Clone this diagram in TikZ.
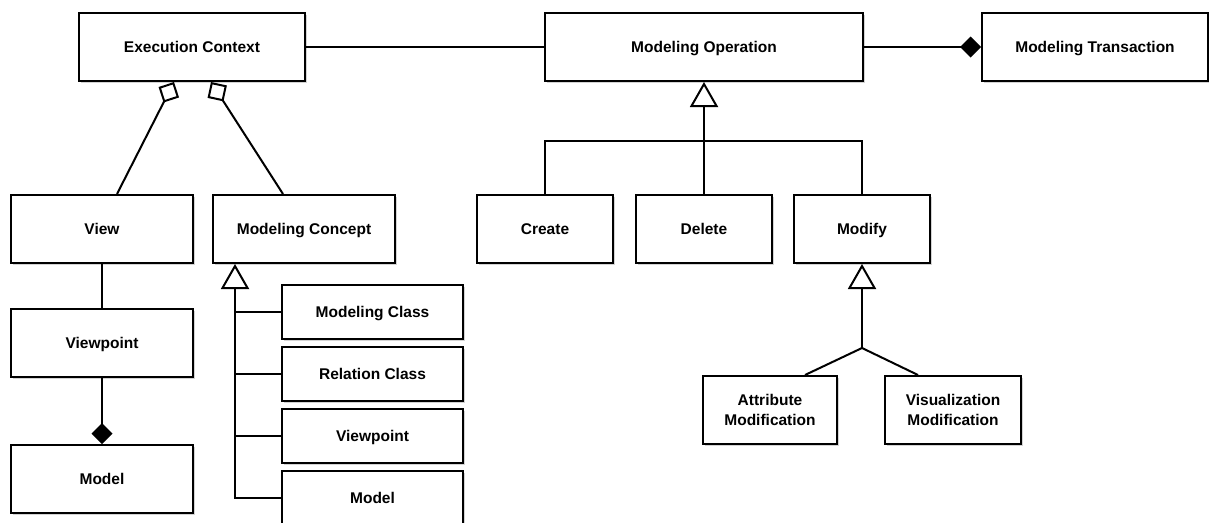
\documentclass[tikz,border=0pt]{standalone}
\usepackage{fontspec}
\setmainfont{Liberation Sans}
\usetikzlibrary{arrows.meta,shadows}
\begin{document}
\begin{tikzpicture}[x=1pt,y=-1pt,
  line width=2pt,
  umlbox/.style={draw, fill=white, line width=2pt, align=center,
    font=\fontsize{15.5}{20}\selectfont\bfseries, inner sep=0pt,
    drop shadow={shadow xshift=2pt, shadow yshift=-2pt, opacity=0.35}},
  oneline/.style={text height=14pt, text depth=3pt},
  bigbox/.style={umlbox, minimum height=68pt},
  smallbox/.style={umlbox, oneline, minimum width=181pt, minimum height=54pt},
  comp/.style={-{Diamond[length=21pt,width=21pt]}},
  agg/.style={{Diamond[length=23pt,width=23pt,fill=white]}-},
  gen/.style={-{Triangle[length=25pt,width=28pt,fill=white]}}
]
\useasboundingbox (0,0) rectangle (1209,522);

% top row
\node[bigbox, oneline, minimum width=226pt] (EC) at (192,47) {Execution Context};
\node[bigbox, oneline, minimum width=318pt] (MO) at (704,47) {Modeling Operation};
\node[bigbox, oneline, minimum width=226pt] (MT) at (1095,47) {Modeling Transaction};

% operations
\node[bigbox, oneline, minimum width=136pt] (Create) at (545,229) {Create};
\node[bigbox, oneline, minimum width=136pt] (Delete) at (704,229) {Delete};
\node[bigbox, oneline, minimum width=136pt] (Modify) at (862,229) {Modify};
\node[bigbox, minimum width=134pt] (Attr) at (770,410) {Attribute\\Modification};
\node[bigbox, minimum width=136pt] (Vis) at (953,410) {Visualization\\Modification};

% left column
\node[bigbox, oneline, minimum width=182pt] (View) at (102,229) {View};
\node[bigbox, oneline, minimum width=182pt] (VP) at (102,343) {Viewpoint};
\node[bigbox, oneline, minimum width=182pt] (Model) at (102,479) {Model};
\node[bigbox, oneline, minimum width=182pt] (MC) at (304,229) {Modeling Concept};

% concept subclasses
\node[smallbox] (MCl) at (372.5,312) {Modeling Class};
\node[smallbox] (RC) at (372.5,374) {Relation Class};
\node[smallbox] (VP2) at (372.5,436) {Viewpoint};
\node[smallbox] (Model2) at (372.5,498) {Model};

% connectors top
\draw (EC.east) -- (MO.west);
\draw[comp] (MO.east) -- (MT.west);

% operation generalization
\coordinate (mojoin) at (704,141);
\draw (Create.north) |- (mojoin);
\draw (Modify.north) |- (mojoin);
\draw (Delete.north) -- (Delete.north |- mojoin);
\draw[gen] (mojoin) -- (MO.south);

% modify generalization
\coordinate (mdjoin) at (862,348);
\draw[gen] (mdjoin) -- (Modify.south);
\draw (mdjoin) -- ([xshift=35pt]Attr.north);
\draw (mdjoin) -- ([xshift=-35pt]Vis.north);

% aggregations
\draw[agg] ([xshift=-18pt]EC.south) -- ([xshift=15pt]View.north);
\draw[agg] ([xshift=19pt]EC.south) -- ([xshift=-21pt]MC.north);

% view chain
\draw (View.south) -- (VP.north);
\draw[comp] (VP.south) -- (Model.north);

% concept generalization
\coordinate (mctop) at ([xshift=23pt]MC.south west);
\draw[gen] (Model2.west) -| (mctop);
\draw (MCl.west) -- (MCl.west -| mctop);
\draw (RC.west) -- (RC.west -| mctop);
\draw (VP2.west) -- (VP2.west -| mctop);
\end{tikzpicture}
\end{document}
